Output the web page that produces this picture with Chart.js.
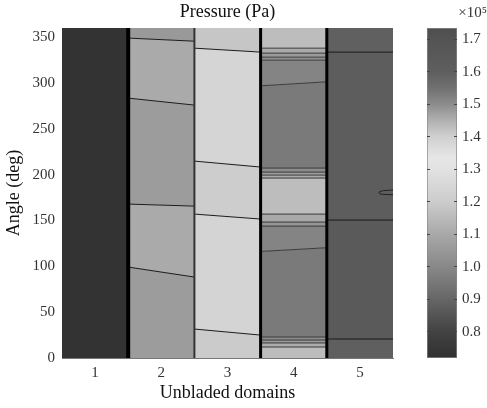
<!DOCTYPE html>
<html>
<head>
<meta charset="utf-8">
<script src="https://cdn.jsdelivr.net/npm/chart.js@4.4.0/dist/chart.umd.min.js"></script>
<style>
  html, body { margin: 0; padding: 0; background: #fff; }
  #wrap { position: relative; width: 487px; height: 408px; }
  #main { position: absolute; left: 0; top: 0; }
  #cbar { position: absolute; left: 400px; top: 0; }
</style>
</head>
<body>
<div id="wrap">
  <canvas id="main" width="487" height="408"></canvas>
  <canvas id="cbar" width="87" height="408"></canvas>
</div>
<script>
// ---------- data ----------
const domainTicks = [1, 2, 3, 4, 5];
const angleTicks = [0, 50, 100, 150, 200, 250, 300, 350];
const colorTicks = [0.8, 0.9, 1.0, 1.1, 1.2, 1.3, 1.4, 1.5, 1.6, 1.7];
const colorRange = [0.72, 1.734];           // x 10^5 Pa

// contour boundaries per domain: [angle at left edge, angle at right edge]
const d1Edges = [[0, 0], [360, 360]];
const d1Values = [0.733];

const d2Edges = [[0, 0], [99.2, 88.3], [167.9, 165.7], [283.5, 275.9], [349, 345.6], [360, 360]];
const d2Values = [1.062, 1.106, 1.062, 1.106, 1.053];

const d3Edges = [[0, 0], [31.6, 25], [157, 151.6], [214.8, 208.3], [338, 333.7], [360, 360]];
const d3Values = [1.197, 1.236, 1.204, 1.241, 1.183];

const d4Edges = [[0, 0], [12.0, 12.0], [16.4, 16.4], [19.6, 19.6], [22.9, 22.9], [116.2, 120.3],
  [143.9, 143.9], [148.3, 148.3], [157.0, 157.0], [196.3, 196.3], [199.5, 199.5], [202.8, 202.8],
  [207.2, 207.2], [296.9, 301.3], [324.9, 324.9], [328.2, 328.2], [332.6, 332.6], [338.0, 338.0], [360, 360]];
const d4Values = [1.43, 1.456, 1.481, 1.50, 1.532, 1.514, 1.4875, 1.461, 1.43, 1.458, 1.481, 1.50,
  1.532, 1.514, 1.497, 1.481, 1.458, 1.43];

const d5Edges = [[0, 0], [20.7, 20.7], [150.5, 150.5], [333.7, 333.7], [360, 360]];
const d5Values = [1.597, 1.64, 1.61, 1.594];

// small closed contour in domain 5
const d5LoopX = [5.5, 5.36, 5.29, 5.3, 5.38, 5.5];
const d5LoopY = [183.2, 182.6, 181, 179.2, 178.4, 178.2];

// domain interfaces
const interfaceX = [1.5, 2.5, 3.5, 4.5];

// colormap: [value, gray level]
const cmapStops = [[0.72, 48], [0.8, 66], [0.9, 102], [1.0, 136], [1.1, 168], [1.2, 204], [1.3, 226],
  [1.335, 230], [1.4, 208], [1.45, 176], [1.5, 140], [1.55, 112], [1.6, 94], [1.7, 84], [1.734, 78]];

// ---------- helpers ----------
function grayOf(v) {
  let g = cmapStops[0][1];
  for (let i = 0; i < cmapStops.length - 1; i++) {
    const [v0, g0] = cmapStops[i], [v1, g1] = cmapStops[i + 1];
    if (v >= v0 && v <= v1) { g = g0 + (g1 - g0) * (v - v0) / (v1 - v0); break; }
    if (v > v1) g = g1;
  }
  g = Math.round(g);
  return `rgb(${g},${g},${g})`;
}

const domains = [
  [1, d1Edges, d1Values],
  [2, d2Edges, d2Values],
  [3, d3Edges, d3Values],
  [4, d4Edges, d4Values],
  [5, d5Edges, d5Values]
];

const datasets = [];
// interfaces first -> drawn on top
const ifaceWidth = [4, 2, 3, 3];
const ifaceColor = ['#000', '#333', '#000', '#000'];
interfaceX.forEach((x, i) => {
  datasets.push({
    data: [{ x: x, y: 0 }, { x: x, y: 360 }],
    borderColor: ifaceColor[i], borderWidth: ifaceWidth[i], pointRadius: 0, fill: false
  });
});
datasets.push({
  data: d5LoopX.map((x, i) => ({ x: x, y: d5LoopY[i] })),
  borderColor: '#222', borderWidth: 1, pointRadius: 0, fill: false, tension: 0.3
});

domains.forEach(([d, edges, values]) => {
  edges.forEach((e, k) => {
    const last = k === edges.length - 1;
    datasets.push({
      data: [{ x: d - 0.5, y: e[0] }, { x: d + 0.5, y: e[1] }],
      borderColor: d === 4 ? '#3a3a3a' : '#1a1a1a',
      borderWidth: (k === 0 || last) ? 0 : 1,
      pointRadius: 0,
      fill: k > 0 ? '-1' : false,
      backgroundColor: k > 0 ? grayOf(values[k - 1]) : 'rgba(0,0,0,0)'
    });
  });
});

const serif = 'Liberation Serif';

new Chart(document.getElementById('main'), {
  type: 'scatter',
  data: { datasets: datasets },
  options: {
    responsive: false,
    devicePixelRatio: 1,
    animation: false,
    showLine: true,
    layout: { padding: { left: 0, right: 94, top: 0, bottom: 0 } },
    plugins: {
      legend: { display: false },
      tooltip: { enabled: false },
      filler: { drawTime: 'beforeDatasetsDraw', propagate: false }
    },
    elements: { line: { borderCapStyle: 'butt' } },
    scales: {
      x: {
        type: 'linear', position: 'bottom', min: 0.5, max: 5.5,
        afterBuildTicks: s => { s.ticks = domainTicks.map(v => ({ value: v })); },
        afterFit: s => { s.height = 50; },
        grid: { display: false, drawTicks: false },
        border: { display: true, color: '#777', width: 1 },
        ticks: { padding: 6, color: '#333', font: { family: serif, size: 15 } },
        title: { display: true, text: 'Unbladed domains', color: '#111',
          font: { family: serif, size: 18 }, padding: { top: 0, bottom: 4 } }
      },
      x2: {
        type: 'linear', position: 'top', min: 0, max: 1,
        afterFit: s => { s.height = 28; },
        grid: { display: false, drawTicks: false },
        border: { display: false },
        ticks: { display: false },
        title: { display: true, text: 'Pressure (Pa)', color: '#111',
          font: { family: serif, size: 18 }, padding: { top: 1, bottom: 0 } }
      },
      y: {
        type: 'linear', position: 'left', min: 0, max: 360,
        afterBuildTicks: s => { s.ticks = angleTicks.map(v => ({ value: v })); },
        afterFit: s => { s.width = 62; },
        grid: { display: false, drawTicks: false },
        border: { display: true, color: '#777', width: 1 },
        ticks: { padding: 7, color: '#333', font: { family: serif, size: 15 } },
        title: { display: true, text: 'Angle (deg)', color: '#111',
          font: { family: serif, size: 18 }, padding: { top: 3, bottom: 0 } }
      }
    }
  }
});

// ---------- colorbar ----------
new Chart(document.getElementById('cbar'), {
  type: 'bar',
  data: {
    labels: ['p'],
    datasets: [{
      data: [colorRange],
      barPercentage: 1, categoryPercentage: 1,
      borderColor: '#888', borderWidth: 1, borderSkipped: false,
      backgroundColor: (ctx) => {
        const chart = ctx.chart;
        const ys = chart.scales.y;
        if (!chart.chartArea || !ys) return '#888';
        const p0 = ys.getPixelForValue(colorRange[0]);
        const p1 = ys.getPixelForValue(colorRange[1]);
        const g = chart.ctx.createLinearGradient(0, p0, 0, p1);
        cmapStops.forEach(([v, lv]) => {
          g.addColorStop((v - colorRange[0]) / (colorRange[1] - colorRange[0]), grayOf(v));
        });
        return g;
      }
    }]
  },
  options: {
    responsive: false,
    devicePixelRatio: 1,
    animation: false,
    layout: { padding: { left: 27, right: 0, top: 0, bottom: 50 } },
    plugins: {
      legend: { display: false },
      tooltip: { enabled: false },
      title: { display: true, text: '×10⁵', align: 'end', color: '#333',
        font: { family: serif, size: 15, weight: 'normal' }, padding: { top: 4, bottom: 6 } }
    },
    scales: {
      x: { display: false },
      y: {
        position: 'right', min: colorRange[0], max: colorRange[1],
        afterBuildTicks: s => { s.ticks = colorTicks.map(v => ({ value: v })); },
        afterFit: s => { s.width = 30; },
        grid: { display: true, drawTicks: false, drawOnChartArea: true, color: '#444', lineWidth: 1, z: 1 },
        border: { display: false, dash: [3, 24] },
        ticks: { padding: 5, color: '#333', font: { family: serif, size: 15 },
          callback: v => Number(v).toFixed(1) }
      }
    }
  }
});
</script>
</body>
</html>
